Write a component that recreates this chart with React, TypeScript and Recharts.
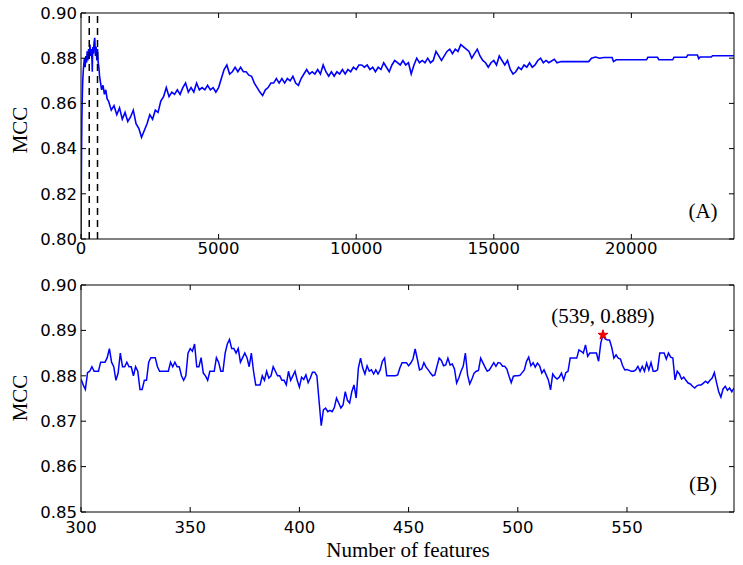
import {
  LineChart,
  Line,
  XAxis,
  YAxis,
  ReferenceLine,
  ReferenceArea,
  ReferenceDot,
  Label,
  Symbols,
} from "recharts";

// ---- panel A: whole feature range ----
const earlyFeaturesA = [
  0, 10, 20, 30, 45, 60, 80, 100, 125, 150, 175, 200, 225, 250, 275, 300, 325, 350, 375, 400,
  410, 425, 450, 475, 500, 525, 550, 575, 600, 625, 650, 675, 700, 750, 800, 850, 900, 950,
];
const earlyMccA = [
  0.8, 0.822, 0.84, 0.852, 0.862, 0.869, 0.874, 0.877, 0.88, 0.876, 0.881, 0.878, 0.883, 0.879,
  0.884, 0.88, 0.886, 0.881, 0.884, 0.879, 0.874, 0.885, 0.882, 0.887, 0.889, 0.881, 0.885, 0.879,
  0.884, 0.878, 0.876, 0.872, 0.87, 0.866, 0.868, 0.864, 0.866, 0.862,
];

// 1000 .. 16900, one reading every 100 features
const denseStartA = 1000;
const denseStepA = 100;
const denseMccA = [
  0.861, 0.857, 0.859, 0.855, 0.858, 0.853, 0.856, 0.852, 0.854, 0.857, // 1000
  0.851, 0.849, 0.845, 0.848, 0.851, 0.855, 0.853, 0.857, 0.856, 0.861, // 2000
  0.863, 0.867, 0.863, 0.865, 0.864, 0.866, 0.864, 0.867, 0.869, 0.865, // 3000
  0.867, 0.865, 0.869, 0.866, 0.867, 0.866, 0.868, 0.866, 0.867, 0.865, // 4000
  0.867, 0.871, 0.875, 0.877, 0.873, 0.874, 0.876, 0.874, 0.876, 0.874, // 5000
  0.874, 0.8725, 0.872, 0.869, 0.867, 0.865, 0.8635, 0.866, 0.867, 0.869, // 6000
  0.869, 0.871, 0.869, 0.871, 0.869, 0.871, 0.87, 0.872, 0.869, 0.868, // 7000
  0.871, 0.873, 0.875, 0.873, 0.874, 0.873, 0.875, 0.873, 0.877, 0.874, // 8000
  0.872, 0.874, 0.872, 0.874, 0.873, 0.875, 0.873, 0.875, 0.874, 0.876, // 9000
  0.875, 0.877, 0.877, 0.876, 0.877, 0.875, 0.876, 0.874, 0.876, 0.875, // 10000
  0.878, 0.876, 0.874, 0.877, 0.879, 0.878, 0.877, 0.879, 0.877, 0.878, // 11000
  0.873, 0.877, 0.88, 0.878, 0.879, 0.878, 0.88, 0.878, 0.879, 0.883, // 12000
  0.881, 0.879, 0.881, 0.883, 0.884, 0.882, 0.884, 0.883, 0.886, 0.885, // 13000
  0.884, 0.883, 0.88, 0.882, 0.884, 0.881, 0.879, 0.878, 0.876, 0.878, // 14000
  0.879, 0.877, 0.881, 0.879, 0.877, 0.879, 0.875, 0.873, 0.874, 0.876, // 15000
  0.875, 0.877, 0.876, 0.878, 0.876, 0.877, 0.879, 0.88, 0.878, 0.879, // 16000
];

const tailFeaturesA = [
  17000, 17200, 17300, 17450, 18450, 18550, 18700, 18850, 19000, 19300, 19350, 19450, 20550,
  20600, 20950, 21000, 21500, 21550, 22000, 22050, 22400, 22450, 22500, 22900, 22950, 23730,
];
const tailMccA = [
  0.878, 0.8795, 0.878, 0.8785, 0.8785, 0.88, 0.8805, 0.88, 0.8803, 0.8803, 0.8785, 0.8793,
  0.8793, 0.8804, 0.8804, 0.8793, 0.8793, 0.8804, 0.8804, 0.8814, 0.8814, 0.8798, 0.8805, 0.8805,
  0.8811, 0.8811,
];

const xTicksA = [0, 5000, 10000, 15000, 20000];
const yTicksA = [0.8, 0.82, 0.84, 0.86, 0.88, 0.9];
const markedA = [300, 600];

// ---- panel B: 300 .. 599 features ----
const startB = 300;
const mccB = [
  0.8793, 0.878, 0.877, 0.8807, 0.881, 0.882, 0.881, 0.881, 0.881, 0.883, // 300
  0.883, 0.883, 0.884, 0.886, 0.883, 0.882, 0.879, 0.8806, 0.885, 0.882, // 310
  0.882, 0.883, 0.882, 0.882, 0.88, 0.882, 0.881, 0.877, 0.877, 0.879, // 320
  0.879, 0.883, 0.884, 0.884, 0.884, 0.882, 0.881, 0.881, 0.881, 0.881, // 330
  0.881, 0.883, 0.882, 0.883, 0.882, 0.882, 0.88, 0.879, 0.88, 0.885, // 340
  0.886, 0.8854, 0.887, 0.882, 0.882, 0.884, 0.8806, 0.88, 0.879, 0.881, // 350
  0.881, 0.881, 0.884, 0.883, 0.881, 0.881, 0.885, 0.887, 0.888, 0.886, // 360
  0.886, 0.885, 0.886, 0.883, 0.884, 0.885, 0.884, 0.882, 0.885, 0.881, // 370
  0.878, 0.878, 0.878, 0.88, 0.879, 0.881, 0.8795, 0.88, 0.882, 0.881, // 380
  0.88, 0.88, 0.879, 0.879, 0.878, 0.881, 0.879, 0.88, 0.881, 0.879, // 390
  0.8775, 0.8797, 0.8792, 0.8802, 0.8785, 0.8795, 0.8808, 0.8808, 0.88, 0.8745, // 400
  0.869, 0.8725, 0.8729, 0.8721, 0.8724, 0.8721, 0.873, 0.8751, 0.874, 0.8729, // 410
  0.8736, 0.8765, 0.8746, 0.874, 0.8765, 0.878, 0.8751, 0.8817, 0.8839, 0.8817, // 420
  0.8804, 0.8822, 0.881, 0.8813, 0.8804, 0.8813, 0.8804, 0.8813, 0.8832, 0.8839, // 430
  0.88, 0.88, 0.88, 0.88, 0.88, 0.8802, 0.8817, 0.8829, 0.8829, 0.8829, // 440
  0.8822, 0.8828, 0.8837, 0.8859, 0.8837, 0.8813, 0.8815, 0.8829, 0.8819, 0.8813, // 450
  0.8806, 0.88, 0.8802, 0.8821, 0.8839, 0.8834, 0.8822, 0.8824, 0.8839, 0.8824, // 460
  0.8826, 0.8815, 0.8784, 0.8795, 0.881, 0.8821, 0.885, 0.8802, 0.8782, 0.8793, // 470
  0.8806, 0.881, 0.8812, 0.8839, 0.8829, 0.8819, 0.881, 0.8813, 0.8821, 0.8829, // 480
  0.8821, 0.8829, 0.8828, 0.8821, 0.8821, 0.8815, 0.8799, 0.8785, 0.8799, 0.88, // 490
  0.88, 0.8801, 0.8807, 0.8813, 0.8832, 0.8841, 0.8822, 0.8829, 0.8819, 0.8828, // 500
  0.8822, 0.8806, 0.8813, 0.8802, 0.8791, 0.8769, 0.8804, 0.8797, 0.8793, 0.8797, // 510
  0.8806, 0.8791, 0.8807, 0.881, 0.8839, 0.8839, 0.8839, 0.8839, 0.8857, 0.8854, // 520
  0.885, 0.8868, 0.8843, 0.885, 0.885, 0.885, 0.885, 0.8832, 0.8872, 0.889, // 530
  0.8881, 0.8879, 0.8879, 0.8863, 0.8839, 0.8846, 0.8839, 0.8837, 0.8822, 0.8813, // 540
  0.8814, 0.8812, 0.881, 0.881, 0.8813, 0.8821, 0.881, 0.8821, 0.881, 0.8828, // 550
  0.8813, 0.8829, 0.881, 0.881, 0.8813, 0.885, 0.885, 0.885, 0.8837, 0.885, // 560
  0.8841, 0.8839, 0.8791, 0.881, 0.8804, 0.8793, 0.8797, 0.879, 0.8784, 0.8782, // 570
  0.8777, 0.8773, 0.8778, 0.878, 0.878, 0.8784, 0.8788, 0.8784, 0.879, 0.8795, // 580
  0.8807, 0.8785, 0.8765, 0.8753, 0.8771, 0.8777, 0.8768, 0.8773, 0.8765, 0.8773, // 590
];
const xTicksB = [300, 350, 400, 450, 500, 550];
const yTicksB = [0.85, 0.86, 0.87, 0.88, 0.89, 0.9];
const bestB = { x: 539, y: 0.889 };

const dataA = [
  ...earlyFeaturesA.map((x, i) => ({ x, y: earlyMccA[i] })),
  ...denseMccA.map((y, i) => ({ x: denseStartA + i * denseStepA, y })),
  ...tailFeaturesA.map((x, i) => ({ x, y: tailMccA[i] })),
];
const dataB = mccB.map((y, i) => ({ x: startB + i, y }));

const TICK_FONT = "'DejaVu Sans', sans-serif";
const SERIF = "'Liberation Serif', 'Times New Roman', serif";
const LEFT = 81;
const RIGHT = 734;

function xTick(top: number, bottom: number, labelY: number) {
  return (props: any) => {
    const { x, payload } = props;
    return (
      <g>
        <line x1={x} x2={x} y1={bottom} y2={bottom - 5} stroke="#000" />
        <line x1={x} x2={x} y1={top} y2={top + 5} stroke="#000" />
        <text x={x} y={labelY} textAnchor="middle" fontSize={16.5} fontFamily={TICK_FONT} fill="#000">
          {payload.value}
        </text>
      </g>
    );
  };
}

function yTick(props: any) {
  const { y, payload } = props;
  return (
    <g>
      <line x1={LEFT} x2={LEFT + 5} y1={y} y2={y} stroke="#000" />
      <line x1={RIGHT} x2={RIGHT - 5} y1={y} y2={y} stroke="#000" />
      <text x={77} y={y} dy="0.35em" textAnchor="end" fontSize={16.5} fontFamily={TICK_FONT} fill="#000">
        {Number(payload.value).toFixed(2)}
      </text>
    </g>
  );
}

export default function App() {
  return (
    <div style={{ position: "absolute", left: 0, top: 0, width: 743, height: 565, background: "#fff" }}>
      <div style={{ position: "absolute", left: 0, top: 0 }}>
        <LineChart width={743} height={270} data={dataA} margin={{ top: 13, right: 9, bottom: 0, left: 0 }}>
          <XAxis
            dataKey="x"
            type="number"
            domain={[0, 23730]}
            ticks={xTicksA}
            interval={0}
            height={31}
            axisLine={false}
            tickLine={false}
            tickSize={0}
            tick={xTick(13, 239, 254)}
            allowDataOverflow
          />
          <YAxis
            type="number"
            domain={[0.8, 0.9]}
            ticks={yTicksA}
            interval={0}
            width={81}
            axisLine={false}
            tickLine={false}
            tickSize={0}
            tick={yTick}
            allowDataOverflow
          />
          <ReferenceArea x1={0} x2={23730} y1={0.8} y2={0.9} fill="none" stroke="#000" strokeWidth={1} />
          <Line
            type="linear"
            dataKey="y"
            stroke="#0000ff"
            strokeWidth={1.6}
            dot={false}
            isAnimationActive={false}
          />
          {markedA.map((m) => (
            <ReferenceLine key={m} x={m} stroke="#000" strokeWidth={1.5} strokeDasharray="7 5" />
          ))}
        </LineChart>
      </div>

      <div style={{ position: "absolute", left: 0, top: 272 }}>
        <LineChart width={743} height={293} data={dataB} margin={{ top: 13, right: 9, bottom: 0, left: 0 }}>
          <XAxis
            dataKey="x"
            type="number"
            domain={[300, 599]}
            ticks={xTicksB}
            interval={0}
            height={53}
            axisLine={false}
            tickLine={false}
            tickSize={0}
            tick={xTick(13, 240, 260.5)}
            allowDataOverflow
          />
          <YAxis
            type="number"
            domain={[0.85, 0.9]}
            ticks={yTicksB}
            interval={0}
            width={81}
            axisLine={false}
            tickLine={false}
            tickSize={0}
            tick={yTick}
            allowDataOverflow
          />
          <ReferenceArea x1={300} x2={599} y1={0.85} y2={0.9} fill="none" stroke="#000" strokeWidth={1} />
          <Line
            type="linear"
            dataKey="y"
            stroke="#0000ff"
            strokeWidth={1.5}
            dot={false}
            isAnimationActive={false}
          />
          <ReferenceDot
            x={bestB.x}
            y={bestB.y}
            r={4}
            shape={(p: any) => (
              <Symbols cx={p.cx} cy={p.cy} type="star" size={30} fill="#ff0000" stroke="#dd0000" />
            )}
          >
            <Label
              value={`(${bestB.x}, ${bestB.y})`}
              position="top"
              offset={8}
              fontSize={21}
              fontFamily={SERIF}
              fill="#000"
            />
          </ReferenceDot>
        </LineChart>
      </div>

      <svg
        width={743}
        height={565}
        style={{ position: "absolute", left: 0, top: 0, pointerEvents: "none" }}
      >
        <g fontFamily={SERIF} fontSize={21} fill="#000">
          <text x={20} y={130} textAnchor="middle" dy="0.35em" transform="rotate(-90 20 130)">
            MCC
          </text>
          <text x={20} y={398} textAnchor="middle" dy="0.35em" transform="rotate(-90 20 398)">
            MCC
          </text>
          <text x={703} y={218} textAnchor="middle">
            (A)
          </text>
          <text x={703} y={491} textAnchor="middle">
            (B)
          </text>
          <text x={408} y={557} textAnchor="middle">
            Number of features
          </text>
        </g>
      </svg>
    </div>
  );
}
